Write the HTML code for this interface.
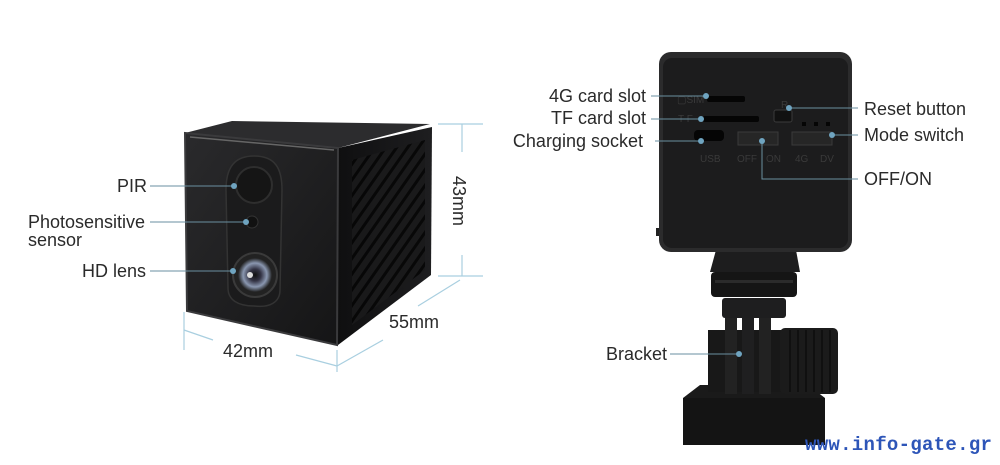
<!DOCTYPE html>
<html><head><meta charset="utf-8"><style>
html,body{margin:0;padding:0;background:#fff;}
svg{display:block}
text{font-family:"Liberation Sans",sans-serif;fill:#2a2a2a;font-size:18px}
.s{font-size:10px;fill:#3a3a3a}
</style></head><body>
<svg width="1000" height="465" viewBox="0 0 1000 465" xmlns="http://www.w3.org/2000/svg">
<defs>
<linearGradient id="front" x1="0" y1="0" x2="1" y2="1"><stop offset="0" stop-color="#2a2a2c"/><stop offset="1" stop-color="#151516"/></linearGradient>
<linearGradient id="side" x1="0" y1="0" x2="1" y2="0"><stop offset="0" stop-color="#0f0f10"/><stop offset="1" stop-color="#1e1e20"/></linearGradient>
<radialGradient id="lens"><stop offset="0" stop-color="#111"/><stop offset="0.35" stop-color="#334"/><stop offset="0.7" stop-color="#8a97b0"/><stop offset="1" stop-color="#222"/></radialGradient>
<pattern id="vent" width="9" height="9" patternUnits="userSpaceOnUse" patternTransform="rotate(-55)"><rect width="9" height="9" fill="#1a1a1b"/><rect x="0" y="3" width="9" height="3" fill="#060606"/></pattern>
</defs>
<!-- left cube -->
<polygon points="185,133 232,121 430,124 338,148" fill="#2c2c2e"/>
<polygon points="338,148 432,127 431,275 338,345" fill="url(#side)"/>
<polygon points="352,160 425,140 425,270 352,325" fill="url(#vent)" opacity="0.9"/>
<polygon points="185,133 338,148 337,345 187,311" fill="url(#front)" stroke="#3a3a3c" stroke-width="2"/>
<line x1="190" y1="137" x2="334" y2="150" stroke="#666" stroke-width="1.5"/>
<path d="M254,156 C275,156 282,168 282,190 L280,290 C280,302 270,308 254,306 C238,306 228,300 228,288 L226,190 C226,168 234,156 254,156 Z" fill="#1b1b1c" stroke="#333" stroke-width="1.5"/>
<circle cx="254" cy="185" r="18" fill="#151515" stroke="#2e2e2e" stroke-width="2"/>
<circle cx="252" cy="222" r="6" fill="#111" stroke="#333"/>
<circle cx="255" cy="275" r="22" fill="#222" stroke="#3a3a3a" stroke-width="2"/>
<circle cx="255" cy="275" r="17" fill="url(#lens)"/>
<circle cx="250" cy="275" r="3" fill="#ddd"/>
<!-- left labels -->
<g stroke="#6a8fa0" stroke-width="1"><line x1="150" y1="186" x2="234" y2="186"/><line x1="150" y1="222" x2="246" y2="222"/><line x1="150" y1="271" x2="233" y2="271"/></g>
<g fill="#6fa4c0"><circle cx="234" cy="186" r="3"/><circle cx="246" cy="222" r="3"/><circle cx="233" cy="271" r="3"/></g>
<text x="117" y="192">PIR</text>
<text x="28" y="228">Photosensitive</text>
<text x="28" y="246">sensor</text>
<text x="82" y="277">HD lens</text>
<!-- dimension lines -->
<g stroke="#a9cfe0" stroke-width="1.2" fill="none">
<line x1="438" y1="124" x2="483" y2="124"/><line x1="462" y1="124" x2="462" y2="152"/><line x1="462" y1="255" x2="462" y2="276"/><line x1="438" y1="276" x2="483" y2="276"/>
<line x1="460" y1="280" x2="418" y2="306"/><line x1="383" y1="340" x2="337" y2="366"/><line x1="337" y1="350" x2="337" y2="372"/>
<line x1="184" y1="312" x2="184" y2="350"/><line x1="184" y1="330" x2="213" y2="340"/><line x1="296" y1="355" x2="337" y2="366"/>
</g>
<text x="0" y="0" transform="translate(453,176) rotate(90)">43mm</text>
<text x="389" y="328">55mm</text>
<text x="223" y="357">42mm</text>
<!-- right camera mount -->
<polygon points="716,250 796,250 800,272 710,272" fill="#1d1d1e"/>
<rect x="711" y="272" width="86" height="25" rx="4" fill="#151515"/>
<rect x="715" y="280" width="78" height="3" fill="#2b2b2b"/>
<rect x="722" y="298" width="64" height="20" rx="3" fill="#1e1e1f"/>
<polygon points="700,385 808,385 825,398 683,398" fill="#1a1a1a"/>
<rect x="683" y="398" width="142" height="47" fill="#141414"/>
<rect x="708" y="330" width="80" height="62" fill="#181818"/>
<rect x="725" y="318" width="12" height="76" fill="#222"/><rect x="742" y="318" width="12" height="76" fill="#1f1f20"/><rect x="759" y="318" width="12" height="76" fill="#222"/>
<rect x="780" y="328" width="58" height="66" rx="5" fill="#1b1b1b"/>
<g stroke="#0d0d0d" stroke-width="1.5"><line x1="790" y1="330" x2="790" y2="392"/><line x1="798" y1="330" x2="798" y2="392"/><line x1="806" y1="330" x2="806" y2="392"/><line x1="814" y1="330" x2="814" y2="392"/><line x1="822" y1="330" x2="822" y2="392"/><line x1="830" y1="330" x2="830" y2="392"/></g>
<!-- right body -->
<rect x="656" y="228" width="4" height="8" fill="#222"/>
<rect x="659" y="52" width="193" height="200" rx="12" fill="#2b2b2c"/>
<rect x="663" y="58" width="185" height="190" rx="9" fill="#1c1c1d"/>
<rect x="707" y="96" width="38" height="6" rx="2" fill="#050505"/>
<rect x="703" y="116" width="56" height="6" rx="2" fill="#050505"/>
<rect x="694" y="130" width="30" height="11" rx="4" fill="#050505"/>
<rect x="738" y="132" width="40" height="13" fill="#262626" stroke="#3a3a3a"/>
<rect x="792" y="132" width="40" height="13" fill="#262626" stroke="#3a3a3a"/>
<rect x="774" y="110" width="18" height="12" rx="2" fill="#111" stroke="#3a3a3a"/>
<rect x="802" y="122" width="4" height="4" fill="#050505"/><rect x="814" y="122" width="4" height="4" fill="#050505"/><rect x="826" y="122" width="4" height="4" fill="#050505"/>
<text class="s" x="677" y="103">▢SIM</text><text class="s" x="678" y="122">T F</text>
<text class="s" x="700" y="162">USB</text><text class="s" x="737" y="162">OFF</text><text class="s" x="766" y="162">ON</text>
<text class="s" x="795" y="162">4G</text><text class="s" x="820" y="162">DV</text><text class="s" x="781" y="108">R</text>
<!-- right labels -->
<g stroke="#6a8fa0" stroke-width="1" fill="none">
<line x1="651" y1="96" x2="706" y2="96"/><line x1="651" y1="119" x2="701" y2="119"/><line x1="655" y1="141" x2="701" y2="141"/>
<line x1="789" y1="108" x2="858" y2="108"/><line x1="832" y1="135" x2="858" y2="135"/>
<polyline points="762,141 762,179 858,179"/><line x1="670" y1="354" x2="738" y2="354"/>
</g>
<g fill="#6fa4c0"><circle cx="706" cy="96" r="3"/><circle cx="701" cy="119" r="3"/><circle cx="701" cy="141" r="3"/><circle cx="789" cy="108" r="3"/><circle cx="832" cy="135" r="3"/><circle cx="762" cy="141" r="3"/><circle cx="739" cy="354" r="3"/></g>
<text x="646" y="102" text-anchor="end">4G card slot</text>
<text x="646" y="124" text-anchor="end">TF card slot</text>
<text x="643" y="147" text-anchor="end">Charging socket</text>
<text x="864" y="115">Reset button</text>
<text x="864" y="141">Mode switch</text>
<text x="864" y="185">OFF/ON</text>
<text x="606" y="360">Bracket</text>
<text x="805" y="450" style="font-family:'Liberation Mono',monospace;font-weight:bold;font-size:19px;fill:#2d55b8;letter-spacing:0.3px">www.info-gate.gr</text>
</svg>
</body></html>
